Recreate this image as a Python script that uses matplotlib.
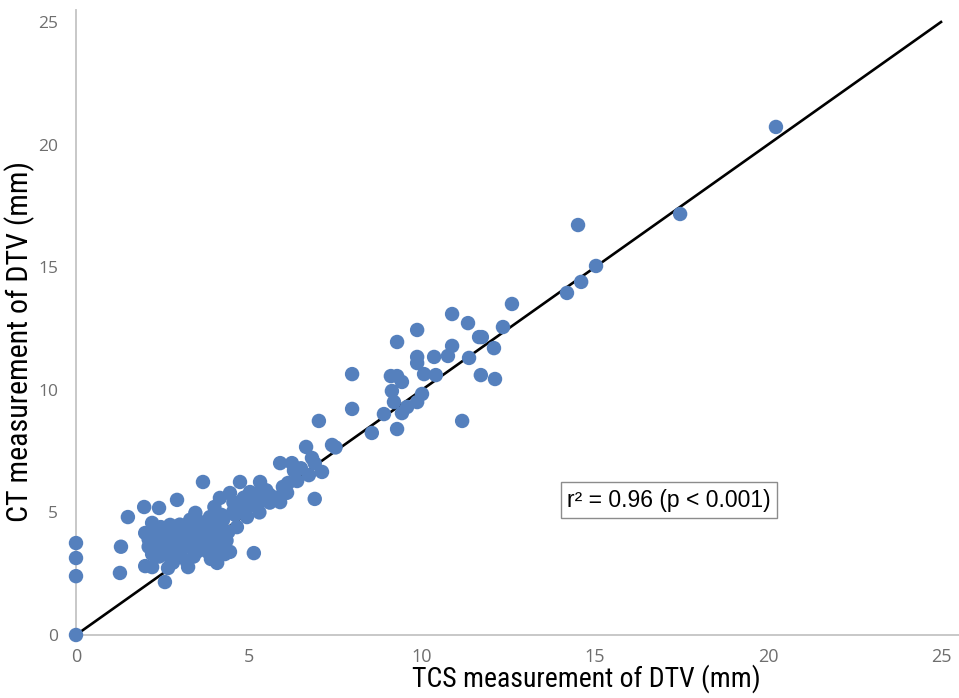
import matplotlib
matplotlib.use("Agg")
import matplotlib.pyplot as plt

# TCS (x) vs CT (y) measurements of DTV (mm)
tcs = [0, 0, 0, 0,
       1.3, 1.27, 1.5, 1.97, 2.4, 2.92, 3.67,
       2.0, 2.2, 2.57, 2.66, 3.24, 4.08, 4.45, 5.14,
       2.0, 2.2, 2.72, 2.1, 2.3, 2.5, 2.2, 2.4, 2.6, 2.8, 2.9, 3.0, 3.1, 3.2,
       3.3, 3.4, 3.5, 3.6, 3.7, 3.8, 3.9, 4.0, 4.1, 4.2, 4.3, 2.7, 2.8, 3.0,
       3.3, 3.45, 3.87, 3.6, 3.5, 2.4, 2.9, 3.2, 3.8, 4.0, 4.25, 4.65, 4.4,
       4.1, 3.9, 2.6, 2.3, 3.1, 3.65, 4.05, 4.0, 4.16, 4.45, 4.54, 4.94, 5.03,
       5.38, 5.6, 5.9, 5.98, 4.74, 5.32, 4.7, 4.3, 4.6, 4.8, 5.1, 5.3, 5.6,
       5.8, 6.13, 6.39, 6.0, 5.9, 6.24, 6.3, 6.5, 6.65, 6.73, 6.9, 6.82, 7.11,
       6.9, 7.4, 7.5, 7.02, 7.98, 7.98, 8.55, 8.9,
       2.1, 2.5, 2.75, 3.05, 3.35, 3.55, 3.75, 3.95, 4.15, 4.35, 2.45, 2.85,
       3.15, 3.5, 3.85, 4.2, 4.55, 4.85, 5.2, 5.5, 5.7, 6.1, 3.4, 2.65, 2.35,
       9.1, 9.28, 9.42, 9.13, 9.19, 10.0, 9.86, 9.57, 9.42, 11.16, 9.28, 9.28,
       9.86, 9.86, 9.86, 10.4, 10.06, 11.7, 12.11, 10.35, 10.75, 10.87, 11.36,
       12.08, 11.65, 11.73, 11.33, 10.87, 12.34, 12.6, 14.19, 14.6, 15.03,
       14.51, 17.46, 20.23]
ct = [0, 3.75, 3.14, 2.4,
      3.6, 2.53, 4.81, 5.22, 5.18, 5.51, 6.24,
      2.81, 2.77, 2.16, 2.73, 2.77, 2.94, 3.39, 3.34,
      4.16, 4.57, 4.49, 3.9, 3.7, 3.5, 3.3, 3.2, 3.9, 4.1, 3.6, 3.3, 3.9, 4.3,
      3.6, 3.2, 4.0, 3.7, 4.4, 3.4, 4.0, 3.8, 4.3, 3.6, 4.1, 3.2, 2.95, 4.5,
      4.7, 4.98, 4.81, 4.6, 3.4, 4.0, 4.3, 3.0, 3.9, 4.6, 4.69, 4.4, 4.2,
      3.5, 3.1, 3.6, 4.3, 3.55, 3.85, 4.9, 5.22, 5.59, 5.79, 5.02, 4.81, 5.83,
      5.5, 5.71, 5.42, 6.04, 6.24, 6.24, 5.4, 3.3, 4.9, 5.1, 5.3, 5.0, 5.4,
      5.6, 6.2, 6.28, 6.0, 7.01, 7.01, 6.7, 6.8, 7.67, 6.52, 7.0, 7.22, 6.65,
      5.55, 7.75, 7.65, 8.73, 10.64, 9.22, 8.24, 9.01,
      3.6, 3.8, 3.45, 3.75, 4.1, 3.55, 3.95, 4.25, 4.0, 3.85, 4.4, 3.85,
      4.15, 4.35, 4.5, 4.9, 5.4, 5.6, 5.75, 5.9, 5.55, 5.8, 3.9, 4.2, 3.45,
      10.56, 10.56, 10.32, 9.95, 9.5, 9.83, 9.5, 9.3, 9.05, 8.73, 8.4, 11.95,
      12.44, 11.34, 11.09, 10.6, 10.64, 10.6, 10.44, 11.34, 11.38, 11.79, 11.3,
      11.7, 12.15, 12.15, 12.72, 13.09, 12.56, 13.5, 13.95, 14.4, 15.05,
      16.72, 17.17, 20.72]

x_ticks = [0, 5, 10, 15, 20, 25]
y_ticks = [0, 5, 10, 15, 20, 25]
fit_line = [0, 25]

W, H = 959, 698
fig = plt.figure(figsize=(W / 100, H / 100), dpi=100)
ax = fig.add_axes([76 / W, 63 / H, 1 - 76 / W, (635 - 10) / H])
ax.set_xlim(0, 25 * 883 / 865)
ax.set_ylim(0, (635 - 10) / 24.52)

ax.plot(fit_line, fit_line, color="black", lw=1.9, zorder=2)
ax.scatter(tcs, ct, s=108, color="#5580BD", edgecolors="none", zorder=3, clip_on=False)

for s in ["top", "right"]:
    ax.spines[s].set_visible(False)
for s in ["left", "bottom"]:
    ax.spines[s].set_color("#c4c4c4")
    ax.spines[s].set_linewidth(1.3)

ax.set_xticks(x_ticks)
ax.set_yticks(y_ticks)
ax.tick_params(length=0, colors="#6e6e6e", labelsize=13)
ax.tick_params(axis="x", pad=9)
ax.tick_params(axis="y", pad=13, labelsize=12.5)
for lab in ax.get_xticklabels() + ax.get_yticklabels():
    lab.set_family("Open Sans")

xl = fig.text(586 / W, (H - 687) / H, "TCS measurement of DTV (mm)",
              family="Roboto Condensed", fontsize=20, ha="center", va="baseline")
yl = fig.text(28 / W, (H - 342) / H, "CT measurement of DTV (mm)",
              family="Roboto Condensed", fontsize=20, ha="center", va="baseline",
              rotation=90, rotation_mode="anchor")

fig.canvas.draw()
r = fig.canvas.get_renderer()
bx = xl.get_window_extent(r)
xl.set_fontsize(xl.get_fontsize() * 348 / bx.width)
by = yl.get_window_extent(r)
yl.set_fontsize(yl.get_fontsize() * 361 / by.height)

ax.text(17.14, 5.5, "r² = 0.96 (p < 0.001)", family="Liberation Sans", fontsize=16.5,
        ha="center", va="center",
        bbox=dict(boxstyle="square,pad=0.28", facecolor="white", edgecolor="#8c8c8c", lw=1))

fig.savefig("out.png", dpi=100)
